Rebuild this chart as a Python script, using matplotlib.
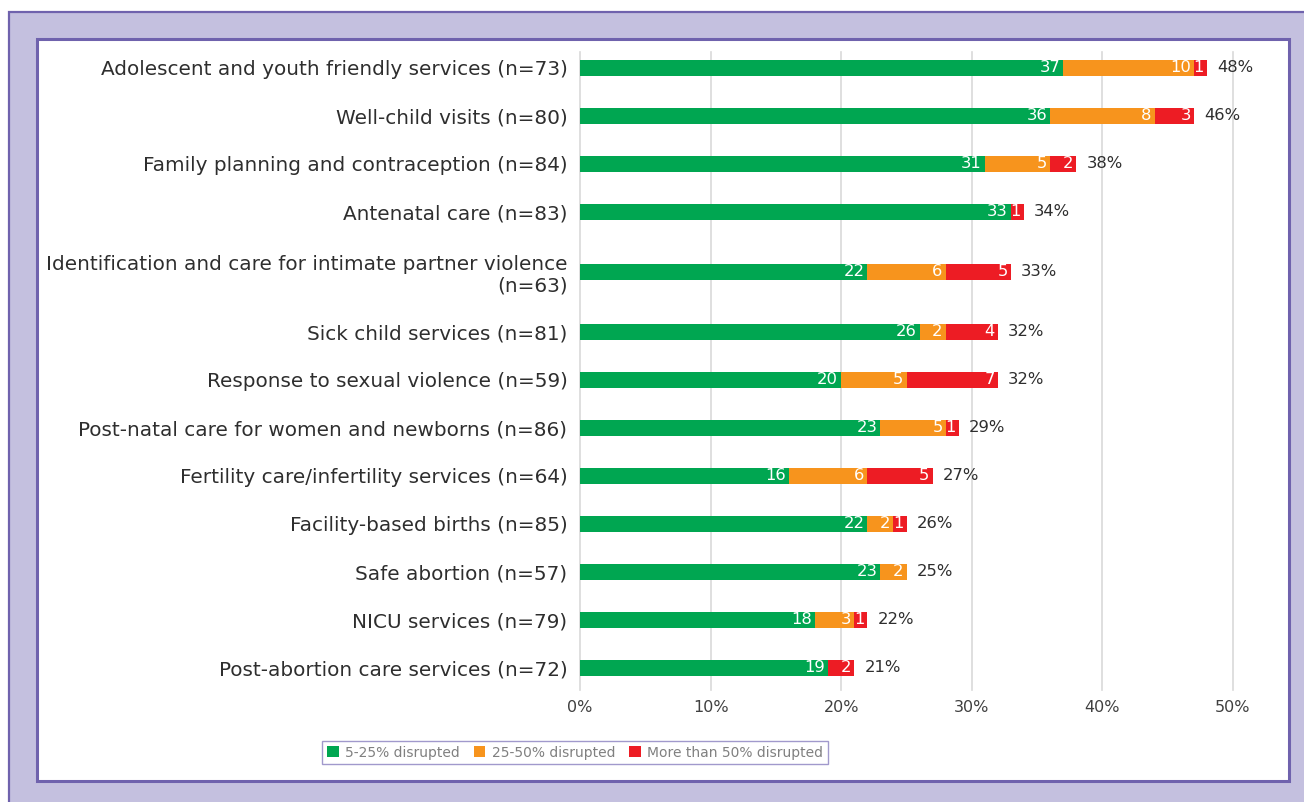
import matplotlib
matplotlib.use("Agg")
import matplotlib.pyplot as plt
from matplotlib.patches import Rectangle, Patch
from matplotlib.transforms import offset_copy
import numpy as np

# ---- data -------------------------------------------------------------
categories = [
    "Adolescent and youth friendly services (n=73)",
    "Well-child visits (n=80)",
    "Family planning and contraception (n=84)",
    "Antenatal care (n=83)",
    "Identification and care for intimate partner violence\n(n=63)",
    "Sick child services (n=81)",
    "Response to sexual violence (n=59)",
    "Post-natal care for women and newborns (n=86)",
    "Fertility care/infertility services (n=64)",
    "Facility-based births (n=85)",
    "Safe abortion (n=57)",
    "NICU services (n=79)",
    "Post-abortion care services (n=72)",
]
low_disrupted = [37, 36, 31, 33, 22, 26, 20, 23, 16, 22, 23, 18, 19]   # 5-25%
mid_disrupted = [10, 8, 5, 0, 6, 2, 5, 5, 6, 2, 2, 3, 0]               # 25-50%
high_disrupted = [1, 3, 2, 1, 5, 4, 7, 1, 5, 1, 0, 1, 2]               # >50%
total_labels = [48, 46, 38, 34, 33, 32, 32, 29, 27, 26, 25, 22, 21]
series_names = ["5-25% disrupted", "25-50% disrupted", "More than 50% disrupted"]
x_ticks = [0, 10, 20, 30, 40, 50]

# ---- style ------------------------------------------------------------
GREEN = "#00A651"
ORANGE = "#F7941D"
RED = "#ED1C24"
LAVENDER = "#C4C0DF"
PURPLE = "#6F62AD"
GRID = "#D9D9D9"
TEXT = "#2E2E2E"

plt.rcParams["font.family"] = ["DejaVu Sans"]

W, H = 1304, 802
fig = plt.figure(figsize=(W / 100, H / 100), dpi=100)
fig.patch.set_facecolor("white")

# framed panel
fig.patches.append(Rectangle((8.5 / W, -0.05), 1.2, 1 - 12.5 / H + 0.05,
                             transform=fig.transFigure, facecolor=LAVENDER,
                             edgecolor=PURPLE, linewidth=1.6, zorder=-2))
fig.patches.append(Rectangle((36.5 / W, 1 - 781 / H), (1289 - 36.5) / W, (781 - 39) / H,
                             transform=fig.transFigure, facecolor="white",
                             edgecolor=PURPLE, linewidth=2.2, zorder=-1))

# plot area
x0, x1 = 580, 1233
y_top, y_bot = 52, 690
ax = fig.add_axes([x0 / W, 1 - y_bot / H, (x1 - x0) / W, (y_bot - y_top) / H])
ax.set_facecolor("none")

# row centres: two-line labels get a taller slot
slots = np.array([1.5 if "\n" in c else 1.0 for c in categories])
centers = np.cumsum(slots) - slots / 2

bar_h = 0.34
low = np.array(low_disrupted, float)
mid = np.array(mid_disrupted, float)
high = np.array(high_disrupted, float)

segments = [(low, np.zeros_like(low), GREEN),
            (mid, low, ORANGE),
            (high, low + mid, RED)]

for vals, left, col in segments:
    ax.barh(centers, vals, left=left, height=bar_h, color=col, zorder=3)

label_tr = offset_copy(ax.transData, fig=fig, x=-3, y=0, units="dots")
for vals, left, col in segments:
    for yc, v, l in zip(centers, vals, left):
        if v > 0:
            ax.text(l + v, yc, f"{int(v)}", transform=label_tr, ha="right",
                    va="center", color="white", fontsize=11.8, zorder=4)

total_tr = offset_copy(ax.transData, fig=fig, x=10, y=0, units="dots")
ends = low + mid + high
for yc, e, t in zip(centers, ends, total_labels):
    ax.text(e, yc, f"{t}%", transform=total_tr, ha="left", va="center",
            color=TEXT, fontsize=11.8, zorder=4)

ax.set_xlim(0, 50)
ax.set_ylim(13.46, 0.17)
ax.set_xticks(x_ticks)
ax.set_xticklabels([f"{t}%" for t in x_ticks], color="#404040", fontsize=11.5)
ax.set_yticks(centers)
ax.set_yticklabels(categories, color=TEXT, fontsize=14.4)
ax.tick_params(axis="both", length=0)
ax.tick_params(axis="y", pad=9)
ax.tick_params(axis="x", pad=7)
ax.grid(axis="x", color=GRID, linewidth=1.2, zorder=0)
for gl in ax.get_xgridlines():
    gl.set_clip_on(False)
for s in ax.spines.values():
    s.set_visible(False)

handles = [Patch(facecolor=c, edgecolor="none") for c in (GREEN, ORANGE, RED)]
leg = fig.legend(handles, series_names, loc="center", ncol=3,
                 bbox_to_anchor=(575 / W, 1 - 752.5 / H), frameon=True,
                 fancybox=False, fontsize=10, handlelength=0.85, handleheight=0.85,
                 handletextpad=0.45, columnspacing=1.0, borderpad=0.35,
                 borderaxespad=0.0, labelcolor="#808080")
leg.get_frame().set_edgecolor("#8A80C0")
leg.get_frame().set_linewidth(1.0)

fig.savefig("out.png", dpi=100)
